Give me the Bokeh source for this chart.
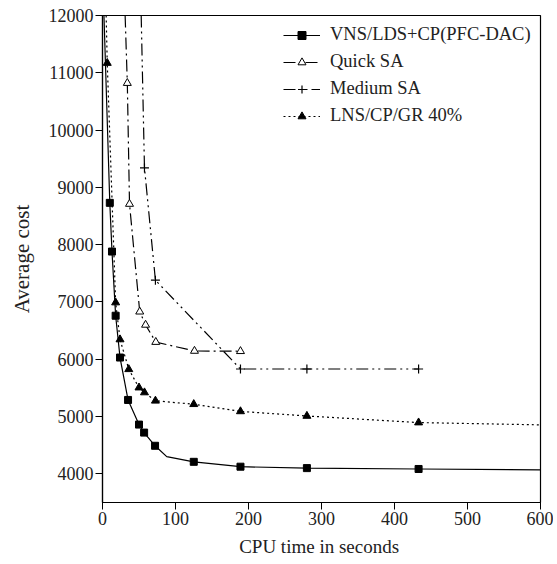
from bokeh.plotting import figure
from bokeh.embed import file_html
from bokeh.resources import INLINE
from bokeh.models import Legend, LegendItem, FixedTicker, Range1d

# ---- data ----
vns_x = [2, 10, 13, 18, 24, 35, 50, 57, 72, 88, 125, 189, 280, 433, 600]
vns_y = [12000, 8730, 7880, 6760, 6030, 5290, 4860, 4720, 4490, 4300, 4210, 4125, 4100, 4085, 4070]
vns_mx = [10, 13, 18, 24, 35, 50, 57, 72, 125, 189, 280, 433]
vns_my = [8730, 7880, 6760, 6030, 5290, 4860, 4720, 4490, 4210, 4125, 4100, 4085]

quick_x = [31, 34, 37, 51, 59, 73, 126, 189]
quick_y = [12000, 10820, 8710, 6830, 6600, 6300, 6145, 6140]
quick_mx = [34, 37, 51, 59, 73, 126, 189]
quick_my = [10820, 8710, 6830, 6600, 6300, 6145, 6140]

medium_x = [53, 57.5, 72.5, 189, 280, 433]
medium_y = [12000, 9340, 7380, 5830, 5830, 5830]
medium_mx = [57.5, 72.5, 189, 280, 433]
medium_my = [9340, 7380, 5830, 5830, 5830]

lns_x = [5, 6.5, 18, 24, 36, 50, 57.5, 72.5, 125, 189, 280, 433, 600]
lns_y = [12000, 11170, 6990, 6345, 5825, 5505, 5420, 5275, 5215, 5090, 5010, 4895, 4855]
lns_mx = [6.5, 18, 24, 36, 50, 57.5, 72.5, 125, 189, 280, 433]
lns_my = [11170, 6990, 6345, 5825, 5505, 5420, 5275, 5215, 5090, 5010, 4895]

labels = ["VNS/LDS+CP(PFC-DAC)", "Quick SA", "Medium SA", "LNS/CP/GR 40%"]
x_ticks = [0, 100, 200, 300, 400, 500, 600]
y_ticks = [4000, 5000, 6000, 7000, 8000, 9000, 10000, 11000, 12000]

FONT = "Liberation Serif"

p = figure(width=553, height=564, output_backend="svg", toolbar_location=None,
           x_range=Range1d(0, 600), y_range=Range1d(3500, 12000),
           min_border_left=102, min_border_right=13, min_border_top=15, min_border_bottom=62)

p.grid.visible = False
p.outline_line_color = "black"
p.outline_line_width = 1.2
p.background_fill_color = "white"
p.border_fill_color = "white"

for ax in (p.xaxis[0], p.yaxis[0]):
    ax.major_label_text_font = FONT
    ax.major_label_text_font_size = "18px"
    ax.major_label_text_color = "#222222"
    ax.axis_label_text_font = FONT
    ax.axis_label_text_font_style = "normal"
    ax.axis_label_text_color = "#222222"
    ax.axis_line_color = "black"
    ax.axis_line_width = 1.2
    ax.major_tick_line_color = "black"
    ax.major_tick_out = 7
    ax.major_tick_in = 0
    ax.minor_tick_line_color = None

p.xaxis.ticker = FixedTicker(ticks=x_ticks)
p.yaxis.ticker = FixedTicker(ticks=y_ticks)
p.xaxis.axis_label = "CPU  time in seconds"
p.yaxis.axis_label = "Average cost"
p.xaxis.axis_label_text_font_size = "19px"
p.yaxis.axis_label_text_font_size = "21px"
p.xaxis.major_label_standoff = 2
p.yaxis.major_label_standoff = 2
p.xaxis.axis_label_standoff = 8
p.yaxis.axis_label_standoff = 12

lw = 1.2
r1 = p.line(vns_x, vns_y, line_color="black", line_width=lw)
m1 = p.scatter(vns_mx, vns_my, marker="square", size=7, fill_color="black", line_color="black")

r2 = p.line(quick_x, quick_y, line_color="black", line_width=lw, line_dash="12 4 2 4")
m2 = p.scatter(quick_mx, quick_my, marker="triangle", size=8, fill_color="white", line_color="black", line_width=1)

r3 = p.line(medium_x, medium_y, line_color="black", line_width=lw, line_dash="12 4 2 4 2 4")
m3 = p.scatter(medium_mx, medium_my, marker="cross", size=9, line_color="black", line_width=1.2)

r4 = p.line(lns_x, lns_y, line_color="black", line_width=lw, line_dash="2 3")
m4 = p.scatter(lns_mx, lns_my, marker="triangle", size=8, fill_color="black", line_color="black")

legend = Legend(items=[
    LegendItem(label=labels[0], renderers=[r1, m1]),
    LegendItem(label=labels[1], renderers=[r2, m2]),
    LegendItem(label=labels[2], renderers=[r3, m3]),
    LegendItem(label=labels[3], renderers=[r4, m4]),
], location=(181, 376))
legend.label_text_font = FONT
legend.label_text_font_size = "18.5px"
legend.label_text_color = "#222222"
legend.border_line_color = None
legend.background_fill_alpha = 0
legend.padding = 0
legend.margin = 0
legend.spacing = 6
legend.glyph_width = 37
legend.glyph_height = 20
legend.label_height = 20
legend.label_standoff = 10
p.add_layout(legend, "center")

open("out.html", "w").write(file_html(p, INLINE))
